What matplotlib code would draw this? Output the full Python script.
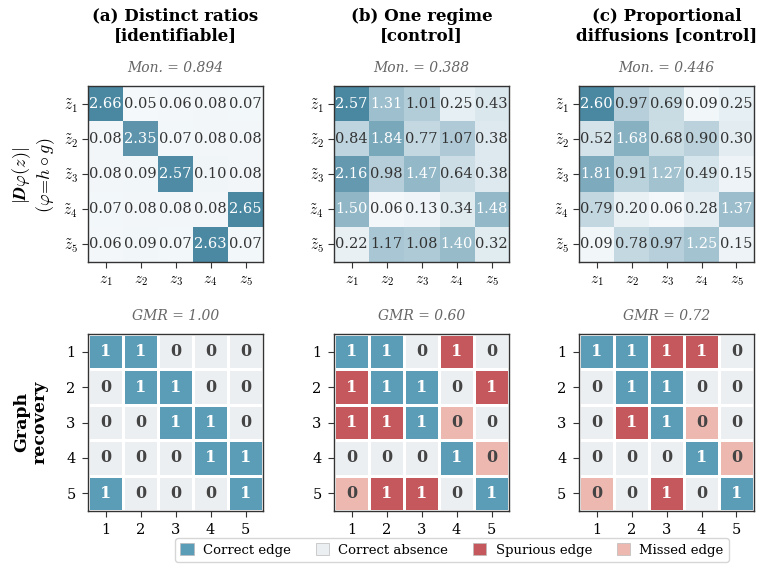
import numpy as np
import matplotlib
matplotlib.use("Agg")
import matplotlib.pyplot as plt
from matplotlib.colors import LinearSegmentedColormap, ListedColormap
from matplotlib.patches import Patch

plt.rcParams['font.family'] = ['DejaVu Serif']
plt.rcParams['mathtext.fontset'] = 'cm'

panel_titles = ["(a) Distinct ratios\n[identifiable]",
                "(b) One regime\n[control]",
                "(c) Proportional\ndiffusions [control]"]
mon_scores = [0.894, 0.388, 0.446]
gmr_scores = [1.00, 0.60, 0.72]

jac_a = [[2.66, 0.05, 0.06, 0.08, 0.07],
         [0.08, 2.35, 0.07, 0.08, 0.08],
         [0.08, 0.09, 2.57, 0.10, 0.08],
         [0.07, 0.08, 0.08, 0.08, 2.65],
         [0.06, 0.09, 0.07, 2.63, 0.07]]
jac_b = [[2.57, 1.31, 1.01, 0.25, 0.43],
         [0.84, 1.84, 0.77, 1.07, 0.38],
         [2.16, 0.98, 1.47, 0.64, 0.38],
         [1.50, 0.06, 0.13, 0.34, 1.48],
         [0.22, 1.17, 1.08, 1.40, 0.32]]
jac_c = [[2.60, 0.97, 0.69, 0.09, 0.25],
         [0.52, 1.68, 0.68, 0.90, 0.30],
         [1.81, 0.91, 1.27, 0.49, 0.15],
         [0.79, 0.20, 0.06, 0.28, 1.37],
         [0.09, 0.78, 0.97, 1.25, 0.15]]

true_graph = [[1, 1, 0, 0, 0],
              [0, 1, 1, 0, 0],
              [0, 0, 1, 1, 0],
              [0, 0, 0, 1, 1],
              [1, 0, 0, 0, 1]]
pred_a = [[1, 1, 0, 0, 0],
          [0, 1, 1, 0, 0],
          [0, 0, 1, 1, 0],
          [0, 0, 0, 1, 1],
          [1, 0, 0, 0, 1]]
pred_b = [[1, 1, 0, 1, 0],
          [1, 1, 1, 0, 1],
          [1, 1, 1, 0, 0],
          [0, 0, 0, 1, 0],
          [0, 1, 1, 0, 1]]
pred_c = [[1, 1, 1, 1, 0],
          [0, 1, 1, 0, 0],
          [0, 1, 1, 0, 0],
          [0, 0, 0, 1, 0],
          [0, 0, 1, 0, 1]]

x_ticklabels = [r'$z_{%d}$' % i for i in range(1, 6)]
y_ticklabels = [r'$\tilde{z}_{%d}$' % i for i in range(1, 6)]
graph_ticklabels = ['1', '2', '3', '4', '5']
legend_labels = ['Correct edge', 'Correct absence', 'Spurious edge', 'Missed edge']

cat_colors = ['#5b9db6', '#eceff2', '#c4585c', '#edb8b0']
heat_cmap = LinearSegmentedColormap.from_list('teal', ['#f7fafc', '#4a88a2'])

W, H = 766, 571
fig = plt.figure(figsize=(W / 100, H / 100), dpi=100)

lefts = [88, 334, 579]
aw = 175
top_rows = (86, 262)
bot_rows = (334, 511)

jacs = [jac_a, jac_b, jac_c]
preds = [pred_a, pred_b, pred_c]
T = np.array(true_graph)

def frac_rect(left, top, bottom):
    return [left / W, 1 - bottom / H, aw / W, (bottom - top) / H]

for k in range(3):
    # ---- top heatmaps ----
    ax = fig.add_axes(frac_rect(lefts[k], *top_rows))
    M = np.array(jacs[k])
    vmax = M.max()
    ax.imshow(M, cmap=heat_cmap, vmin=0, vmax=vmax, aspect='auto')
    for i in range(5):
        for j in range(5):
            v = M[i, j]
            col = 'white' if v > 0.47 * vmax else '#333333'
            ax.text(j, i, f'{v:.2f}', ha='center', va='center', fontsize=10.5, color=col)
    ax.set_xticks(range(5))
    ax.set_yticks(range(5))
    ax.set_xticklabels(x_ticklabels, fontsize=11)
    ax.set_yticklabels(y_ticklabels, fontsize=11)
    ax.tick_params(axis='x', pad=5, length=4, color='#333333')
    ax.tick_params(axis='y', pad=3, length=4, color='#333333')
    for s in ax.spines.values():
        s.set_linewidth(1.0)
        s.set_color('#333333')
    ax.text(0.5, 1.1, f'Mon. = {mon_scores[k]:.3f}', transform=ax.transAxes,
            ha='center', va='center', fontsize=10, style='italic', color='#666666')
    fig.text((lefts[k] + aw / 2) / W, 1 - 26 / H, panel_titles[k], ha='center', va='center',
             fontsize=12, fontweight='bold', linespacing=1.2)

    # ---- bottom graph recovery ----
    ax2 = fig.add_axes(frac_rect(lefts[k], *bot_rows))
    P = np.array(preds[k])
    cat = np.where((P == 1) & (T == 1), 0,
          np.where((P == 0) & (T == 0), 1,
          np.where((P == 1) & (T == 0), 2, 3)))
    ax2.pcolormesh(np.arange(6) - 0.5, np.arange(6) - 0.5, cat,
                   cmap=ListedColormap(cat_colors), vmin=-0.5, vmax=3.5,
                   edgecolors='white', linewidth=2)
    ax2.set_xlim(-0.5, 4.5)
    ax2.set_ylim(4.5, -0.5)
    for i in range(5):
        for j in range(5):
            col = 'white' if cat[i, j] in (0, 2) else '#444444'
            ax2.text(j, i, str(P[i, j]), ha='center', va='center', fontsize=11.5,
                     fontweight='bold', color=col)
    ax2.set_xticks(range(5))
    ax2.set_yticks(range(5))
    ax2.set_xticklabels(graph_ticklabels, fontsize=10.5)
    ax2.set_yticklabels(graph_ticklabels, fontsize=10.5)
    ax2.tick_params(length=4, color='#333333', pad=5)
    for s in ax2.spines.values():
        s.set_linewidth(1.0)
        s.set_color('#333333')
    ax2.text(0.5, 1.1, f'GMR = {gmr_scores[k]:.2f}', transform=ax2.transAxes,
             ha='center', va='center', fontsize=10, style='italic', color='#666666')

# row labels
fig.text(22 / W, 1 - 175 / H, r'$|\boldsymbol{D}\varphi(z)|$', rotation=90,
         ha='center', va='center', fontsize=13)
fig.text(46 / W, 1 - 175 / H, r'$(\varphi\!=\!h\circ g)$', rotation=90,
         ha='center', va='center', fontsize=13)
fig.text(31 / W, 1 - 422 / H, 'Graph\nrecovery', rotation=90, ha='center', va='center',
         fontsize=12.5, fontweight='bold', linespacing=1.1)

handles = [Patch(facecolor=c, edgecolor='#bbbbbb', linewidth=0.5) for c in cat_colors]
fig.legend(handles, legend_labels, loc='center', bbox_to_anchor=(452 / W, 1 - 550 / H),
           ncol=4, fontsize=9.5, frameon=True, handlelength=1.0, handleheight=1.0,
           handletextpad=0.7, columnspacing=1.9, borderpad=0.4, edgecolor='#cccccc')

fig.savefig('out.png', dpi=100)
